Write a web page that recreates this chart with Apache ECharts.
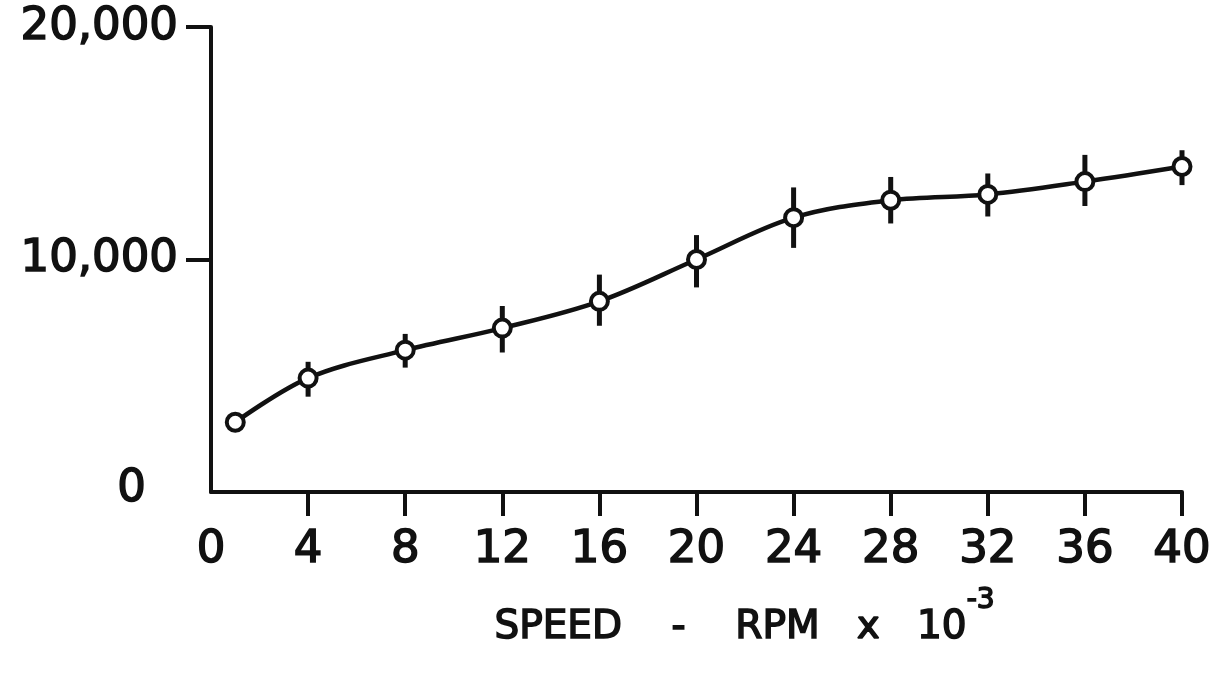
<!DOCTYPE html>
<html>
<head>
<meta charset="utf-8">
<script src="https://cdn.jsdelivr.net/npm/echarts@6/dist/echarts.min.js"></script>
<style>
html,body{margin:0;padding:0;background:#fff;}
#chart{width:1215px;height:674px;}
</style>
</head>
<body>
<div id="chart"></div>
<script>
// ---- data ----
var speeds = [1, 4, 8, 12, 16, 20, 24, 28, 32, 36, 40];
var values = [3000, 4900, 6100, 7050, 8200, 10000, 11800, 12550, 12800, 13350, 14000];
var errLow  = [null, 4100, 5350, 6000, 7150, 8800, 10500, 11550, 11850, 12300, 13200];
var errHigh = [null, 5600, 6800, 8000, 9350, 11050, 13100, 13550, 13700, 14500, 14700];
var xTickValues = [4, 8, 12, 16, 20, 24, 28, 32, 36, 40];
var xLabelValues = [0, 4, 8, 12, 16, 20, 24, 28, 32, 36, 40];
var yTickValues = [10000, 20000];
var yLabelValues = [0, 10000, 20000];
var yLabelTexts = ['0', '10,000', '20,000'];
var xAxisTitle = 'SPEED    -    RPM   x   10';
var xAxisTitleSup = '-3';

var ink = '#111';
var font = 'DejaVu Sans';
var bold = {textBorderColor: ink, textBorderWidth: 1.6};

var lineData = speeds.map(function (s, i) { return [s, values[i]]; });
var errData = [];
speeds.forEach(function (s, i) {
  if (errLow[i] != null) errData.push([s, errLow[i], errHigh[i]]);
});

var chart = echarts.init(document.getElementById('chart'), null, {renderer: 'canvas'});
chart.setOption({
  backgroundColor: '#fff',
  animation: false,
  grid: {left: 211, right: 33, top: 27, bottom: 166, containLabel: false},
  xAxis: {
    type: 'value', min: 0, max: 40,
    splitLine: {show: false},
    axisLine: {lineStyle: {color: ink, width: 4}},
    axisTick: {show: true, inside: false, length: 24, customValues: xTickValues,
               lineStyle: {color: ink, width: 4}},
    axisLabel: Object.assign({customValues: xLabelValues, margin: 36, color: ink,
                fontFamily: font, fontSize: 45}, bold),
    name: xAxisTitle + '{sup|' + xAxisTitleSup + '}',
    nameLocation: 'middle',
    nameGap: 116,
    nameTextStyle: Object.assign({
      color: ink, fontFamily: font, fontSize: 39, lineHeight: 40,
      padding: [0, 0, 0, 96],
      rich: {
        sup: Object.assign({color: ink, fontFamily: font, fontSize: 28, lineHeight: 28,
              padding: [0, 0, 54, 0]}, bold)
      }
    }, bold)
  },
  yAxis: {
    type: 'value', min: 0, max: 20000,
    splitLine: {show: false},
    axisLine: {show: true, lineStyle: {color: ink, width: 4}},
    axisTick: {show: true, inside: false, length: 25, customValues: yTickValues,
               lineStyle: {color: ink, width: 4}},
    axisLabel: Object.assign({
      customValues: yLabelValues, margin: 33, color: ink,
      fontFamily: font, fontSize: 45,
      formatter: function (v) {
        var idx = yLabelValues.indexOf(v);
        var t = idx >= 0 ? yLabelTexts[idx] : String(v);
        return v === 0 ? '{z|' + t + '}' : t;
      },
      rich: {
        z: Object.assign({color: ink, fontFamily: font, fontSize: 45, padding: [0, 32, 6, 0]}, bold)
      }
    }, bold)
  },
  series: [
    {
      type: 'custom',
      z: 2,
      data: errData,
      renderItem: function (params, api) {
        var p1 = api.coord([api.value(0), api.value(1)]);
        var p2 = api.coord([api.value(0), api.value(2)]);
        return {
          type: 'line',
          shape: {x1: p1[0], y1: p1[1], x2: p2[0], y2: p2[1]},
          style: {stroke: ink, lineWidth: 5}
        };
      }
    },
    {
      type: 'line',
      z: 3,
      data: lineData,
      smooth: 0.35,
      symbol: 'circle',
      symbolSize: 17,
      itemStyle: {color: '#fff', borderColor: ink, borderWidth: 4},
      lineStyle: {color: ink, width: 4.5}
    }
  ]
});
</script>
</body>
</html>
